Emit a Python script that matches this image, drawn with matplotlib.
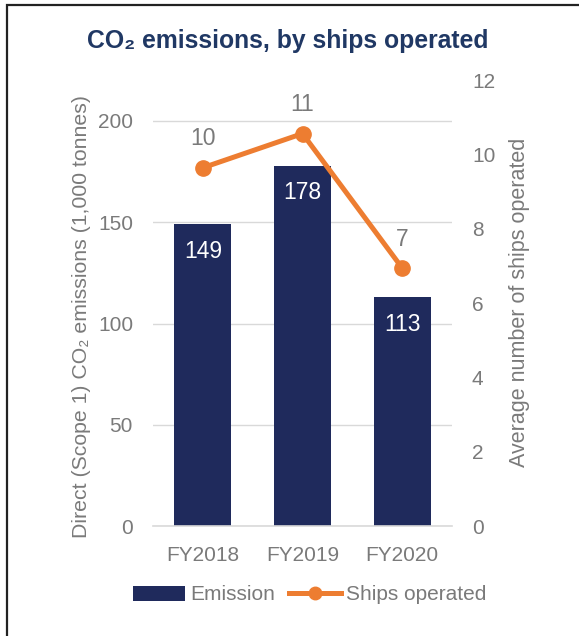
import matplotlib
matplotlib.use("Agg")
import matplotlib.pyplot as plt
from matplotlib.lines import Line2D
from matplotlib.patches import Patch, Rectangle

years = ["FY2018", "FY2019", "FY2020"]
emissions = [149, 178, 113]
ships = [9.65, 10.57, 6.95]

NAVY = "#1F2A5C"
ORANGE = "#ED7D31"
GRAY = "#7A7A7A"
TITLE = "#203864"

plt.rcParams["font.family"] = ["Liberation Sans", "DejaVu Sans"]


def fmt(v):
    # Excel style rounding, half up
    return str(int(v + 0.5))


W, H = 579, 636
fig = plt.figure(figsize=(W / 100, H / 100), dpi=100)
ax = fig.add_axes([153 / W, 1 - 526 / H, 299 / W, 445.5 / H])
ax2 = ax.twinx()

x = list(range(len(years)))
ax.bar(x, emissions, width=0.57, color=NAVY, zorder=2)
for xi, v in zip(x, emissions):
    ax.text(xi, v - 13.5, fmt(v), color="white", ha="center", va="center", fontsize=16.5, zorder=3)

ax.set_ylim(0, 220)
ax.set_xlim(-0.5, 2.5)
ax.set_yticks([0, 50, 100, 150, 200])
ax.set_xticks(x)
ax.set_xticklabels(years)
ax.grid(axis="y", color="#D9D9D9", linewidth=1.0, zorder=0)
ax.set_axisbelow(True)
for s in ["top", "left", "right"]:
    ax.spines[s].set_visible(False)
ax.spines["bottom"].set_color("#D9D9D9")
ax.spines["bottom"].set_linewidth(1.2)
ax.tick_params(axis="y", length=0, pad=14.4, labelsize=15, labelcolor=GRAY)
ax.tick_params(axis="x", length=0, pad=14.5, labelsize=15, labelcolor=GRAY)
ax.set_ylabel("Direct (Scope 1) CO\u2082 emissions (1,000 tonnes)", color=GRAY, fontsize=15.3, va="center")
ax.yaxis.set_label_coords((82 - 153) / 299, 0.47)

ax2.plot(x, ships, color=ORANGE, linewidth=3.6, marker="o", markersize=11, zorder=4)
for xi, v in zip(x, ships):
    ax2.text(xi, v + 0.78, fmt(v), color=GRAY, ha="center", va="center", fontsize=16.5)
ax2.set_ylim(0, 12)
ax2.set_yticks([0, 2, 4, 6, 8, 10, 12])
for s in ["top", "left", "right", "bottom"]:
    ax2.spines[s].set_visible(False)
ax2.tick_params(axis="y", length=0, pad=14.4, labelsize=15, labelcolor=GRAY)
ax2.set_ylabel("Average number of ships operated", color=GRAY, fontsize=15.5, va="center")
ax2.yaxis.set_label_coords((519 - 153) / 299, 0.502)

fig.text(287.5 / W, 1 - 41 / H, "CO\u2082 emissions, by ships operated", color=TITLE,
         fontsize=17.8, fontweight="bold", ha="center", va="center")

handles = [Patch(facecolor=NAVY, edgecolor="none", label="Emission"),
           Line2D([0], [0], color=ORANGE, linewidth=3.6, marker="o", markersize=9, label="Ships operated")]
fig.legend(handles=handles, loc="center", bbox_to_anchor=(310 / W, 1 - 595 / H), ncol=2,
           frameon=False, fontsize=15, labelcolor=GRAY, handlelength=2.5, handletextpad=0.24,
           columnspacing=0.67, handleheight=0.7)

# outer frame, running past the right and bottom edges like the source crop
fig.patches.append(Rectangle((6.5 / W, -0.1), 1.2, 1 - 5 / H + 0.1, transform=fig.transFigure,
                             fill=False, edgecolor="#222222", linewidth=1.6))

fig.savefig("out.png", dpi=100)
